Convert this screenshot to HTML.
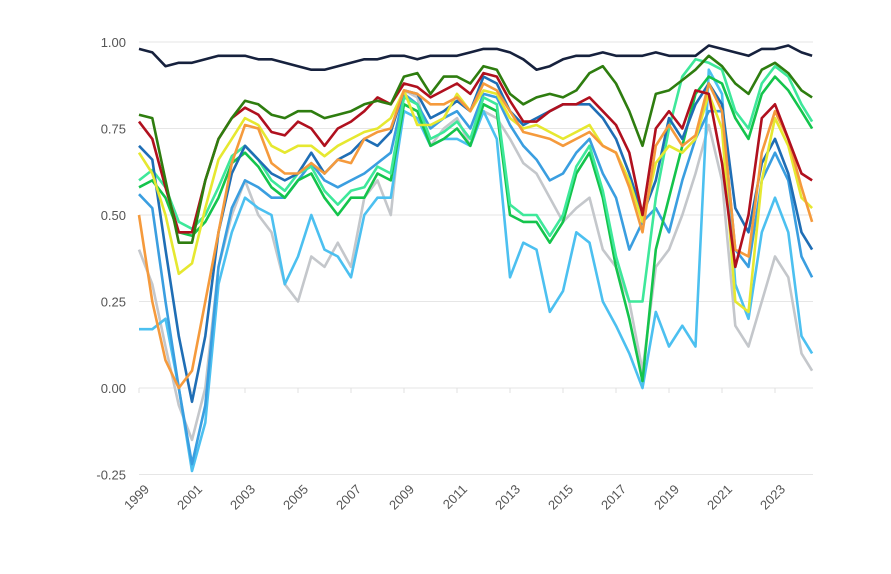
<!DOCTYPE html>
<html><head><meta charset="utf-8">
<style>
body{margin:0;background:#fff;}
svg{display:block;font-family:"Liberation Sans",sans-serif;}
</style></head>
<body>
<svg id="chart" width="891" height="574" viewBox="0 0 891 574">
<g id="grid"></g>
<g id="yaxis"></g>
<g id="xaxis"></g>
<g id="lines"></g>
</svg>
<script>
const years=[1999,1999.5,2000,2000.5,2001,2001.5,2002,2002.5,2003,2003.5,2004,2004.5,2005,2005.5,2006,2006.5,2007,2007.5,2008,2008.5,2009,2009.5,2010,2010.5,2011,2011.5,2012,2012.5,2013,2013.5,2014,2014.5,2015,2015.5,2016,2016.5,2017,2017.5,2018,2018.5,2019,2019.5,2020,2020.5,2021,2021.5,2022,2022.5,2023,2023.5,2024,2024.4];
const yTicks=[1.00,0.75,0.50,0.25,0.00,-0.25];
const yTickLabels=["1.00","0.75","0.50","0.25","0.00","-0.25"];
const xTicks=[1999,2001,2003,2005,2007,2009,2011,2013,2015,2017,2019,2021,2023];
const gray=[0.40,0.30,0.12,-0.05,-0.15,0.00,0.35,0.50,0.60,0.50,0.45,0.30,0.25,0.38,0.35,0.42,0.35,0.55,0.60,0.50,0.86,0.84,0.70,0.75,0.78,0.70,0.80,0.78,0.72,0.65,0.62,0.55,0.48,0.52,0.55,0.40,0.35,0.25,0.05,0.35,0.40,0.50,0.62,0.76,0.60,0.18,0.12,0.25,0.38,0.32,0.10,0.05];
const skyBlue=[0.17,0.17,0.20,0.00,-0.24,-0.10,0.30,0.45,0.55,0.52,0.50,0.30,0.38,0.50,0.40,0.38,0.32,0.50,0.55,0.55,0.80,0.78,0.70,0.72,0.72,0.70,0.80,0.72,0.32,0.42,0.40,0.22,0.28,0.45,0.42,0.25,0.18,0.10,0.00,0.22,0.12,0.18,0.12,0.92,0.85,0.30,0.20,0.45,0.55,0.45,0.15,0.10];
const midBlue=[0.56,0.52,0.25,0.00,-0.22,-0.05,0.35,0.52,0.60,0.58,0.55,0.55,0.60,0.65,0.60,0.58,0.60,0.62,0.65,0.68,0.85,0.82,0.75,0.78,0.80,0.75,0.85,0.84,0.76,0.70,0.66,0.60,0.62,0.68,0.72,0.62,0.55,0.40,0.48,0.52,0.45,0.60,0.72,0.80,0.80,0.40,0.35,0.60,0.68,0.60,0.38,0.32];
const green=[0.58,0.60,0.55,0.45,0.44,0.48,0.55,0.65,0.68,0.64,0.58,0.55,0.60,0.62,0.55,0.50,0.55,0.55,0.62,0.60,0.82,0.80,0.70,0.72,0.75,0.70,0.82,0.80,0.50,0.48,0.48,0.42,0.48,0.62,0.68,0.55,0.35,0.20,0.02,0.40,0.55,0.70,0.85,0.90,0.88,0.78,0.72,0.85,0.90,0.86,0.80,0.75];
const mint=[0.60,0.63,0.58,0.48,0.46,0.50,0.58,0.67,0.70,0.66,0.60,0.57,0.62,0.64,0.57,0.53,0.57,0.58,0.64,0.62,0.84,0.82,0.72,0.74,0.77,0.72,0.84,0.82,0.53,0.50,0.50,0.44,0.50,0.64,0.70,0.57,0.38,0.25,0.25,0.55,0.75,0.90,0.95,0.94,0.92,0.80,0.75,0.88,0.93,0.90,0.82,0.77];
const darkBlue=[0.70,0.66,0.40,0.15,-0.04,0.15,0.45,0.62,0.70,0.66,0.62,0.60,0.62,0.68,0.62,0.66,0.68,0.72,0.70,0.74,0.86,0.85,0.78,0.80,0.83,0.80,0.90,0.88,0.80,0.76,0.78,0.80,0.82,0.82,0.82,0.78,0.72,0.62,0.50,0.60,0.78,0.72,0.82,0.88,0.82,0.52,0.45,0.65,0.72,0.62,0.45,0.40];
const yellow=[0.68,0.62,0.50,0.33,0.36,0.52,0.66,0.72,0.78,0.76,0.70,0.68,0.70,0.70,0.67,0.70,0.72,0.74,0.75,0.78,0.86,0.76,0.76,0.78,0.85,0.80,0.86,0.85,0.78,0.75,0.76,0.74,0.72,0.74,0.76,0.70,0.68,0.60,0.48,0.65,0.70,0.68,0.72,0.85,0.75,0.25,0.22,0.60,0.78,0.70,0.55,0.52];
const orange=[0.50,0.25,0.08,0.00,0.05,0.25,0.45,0.65,0.76,0.75,0.65,0.62,0.62,0.65,0.62,0.66,0.65,0.72,0.74,0.75,0.86,0.85,0.82,0.82,0.84,0.80,0.88,0.86,0.80,0.74,0.73,0.72,0.70,0.72,0.74,0.70,0.68,0.58,0.45,0.70,0.76,0.70,0.73,0.88,0.80,0.40,0.38,0.68,0.80,0.72,0.58,0.48];
const red=[0.77,0.72,0.58,0.45,0.45,0.60,0.72,0.78,0.81,0.79,0.74,0.73,0.77,0.75,0.70,0.75,0.77,0.80,0.84,0.82,0.88,0.87,0.84,0.86,0.88,0.85,0.91,0.90,0.83,0.77,0.77,0.80,0.82,0.82,0.84,0.80,0.76,0.68,0.50,0.75,0.80,0.75,0.86,0.85,0.65,0.35,0.50,0.78,0.82,0.72,0.62,0.60];
const darkGreen=[0.79,0.78,0.60,0.42,0.42,0.60,0.72,0.78,0.83,0.82,0.79,0.78,0.80,0.80,0.78,0.79,0.80,0.82,0.83,0.82,0.90,0.91,0.85,0.90,0.90,0.88,0.93,0.92,0.85,0.82,0.84,0.85,0.84,0.86,0.91,0.93,0.88,0.80,0.70,0.85,0.86,0.89,0.92,0.96,0.93,0.88,0.85,0.92,0.94,0.91,0.86,0.84];
const navy=[0.98,0.97,0.93,0.94,0.94,0.95,0.96,0.96,0.96,0.95,0.95,0.94,0.93,0.92,0.92,0.93,0.94,0.95,0.95,0.96,0.96,0.95,0.96,0.96,0.96,0.97,0.98,0.98,0.97,0.95,0.92,0.93,0.95,0.96,0.96,0.97,0.96,0.96,0.96,0.97,0.96,0.96,0.96,0.99,0.98,0.97,0.96,0.98,0.98,0.99,0.97,0.96];

const NS='http://www.w3.org/2000/svg';
const X0=139,XL=813;
const xs=t=>139+(t-1999)*26.5;
const ys=v=>388-v*346;
function mk(tag,attrs,parent){const e=document.createElementNS(NS,tag);for(const k in attrs)e.setAttribute(k,attrs[k]);parent.appendChild(e);return e;}
const grid=document.getElementById('grid'),yax=document.getElementById('yaxis'),xax=document.getElementById('xaxis'),lines=document.getElementById('lines');
yTicks.forEach((v,i)=>{
  const l=mk('line',{x1:X0,x2:XL,y1:ys(v),y2:ys(v),stroke:'#e6e6e6','stroke-width':1},grid);
  
  
  const t=mk('text',{x:126,y:ys(v)+5,'text-anchor':'end','font-size':13,fill:'#555'},yax);
  t.textContent=yTickLabels[i];
  
  
});
xTicks.forEach(yr=>{
  const x=xs(yr);
  const tk=mk('line',{x1:x,x2:x,y1:388,y2:393,stroke:'#e0e0e0'},xax);
  
  
  const t=mk('text',{x:x+11,y:490,'text-anchor':'end','font-size':13,fill:'#555',transform:`rotate(-45 ${x+11} 490)`},xax);
  t.textContent=yr;
  
  
});
const series=[
 ['gray',gray,'#c4c7cb'],['sky-blue',skyBlue,'#4cc0f0'],['mid-blue',midBlue,'#3a9ee0'],
 ['green',green,'#14c44c'],['mint',mint,'#3ee89a'],['dark-blue',darkBlue,'#1f6eb5'],
 ['yellow',yellow,'#e6e830'],['orange',orange,'#f59a3c'],['red',red,'#b0101e'],
 ['dark-green',darkGreen,'#2e7d0f'],['navy',navy,'#16213d']];
series.forEach(([name,vals,col])=>{
  const d=vals.map((v,i)=>(i?'L':'M')+xs(years[i]).toFixed(1)+','+ys(v).toFixed(1)).join('');
  const p=mk('path',{d:d,fill:'none',stroke:col,'stroke-width':2.6,'stroke-linejoin':'round'},lines);
  
  
});
</script>
</body></html>
